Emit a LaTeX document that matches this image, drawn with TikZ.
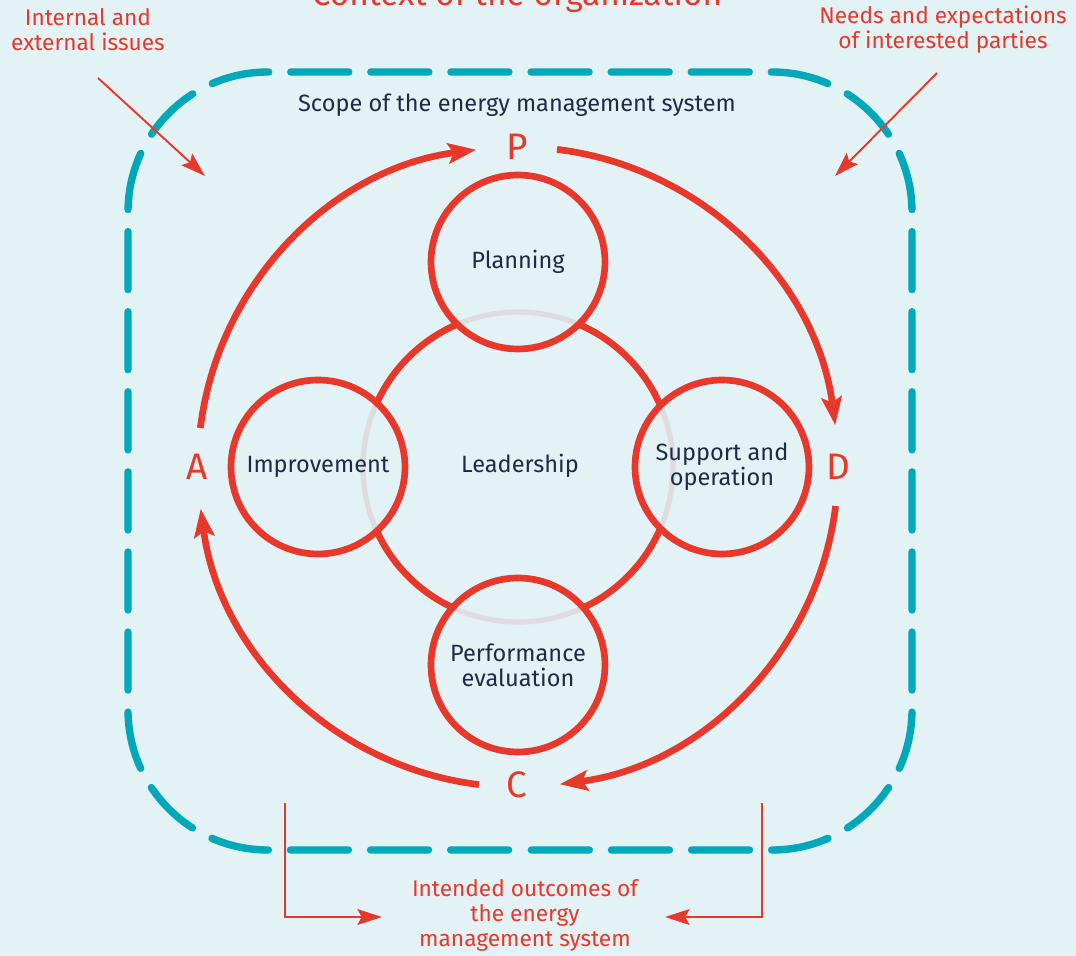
\documentclass[tikz,border=0pt]{standalone}
\usepackage{fontspec}
\setmainfont{Fira Sans}
\usetikzlibrary{calc}
\usetikzlibrary{arrows.meta}
\definecolor{pdcared}{HTML}{E8382B}
\definecolor{scopeteal}{HTML}{00A8BA}
\definecolor{bgblue}{HTML}{E2F2F5}
\definecolor{ringgrey}{HTML}{DEDCDE}
\definecolor{textnavy}{HTML}{1F2B45}

\begin{document}
\begin{tikzpicture}[x=0.02cm,y=0.02cm,
 every node/.style={inner sep=0pt},
 stage/.style={font=\fontsize{13.4}{14.2}\selectfont, text=textnavy, align=center},
 note/.style={font=\fontsize{12.9}{14.2}\selectfont, text=pdcared, align=center},
 phaseletter/.style={font=\fontsize{21}{21}\selectfont, text=pdcared},
 phase/.style={pdcared, line width=3.8pt, -{Stealth[length=16pt,width=11.5pt,inset=3pt]}},
 feed/.style={pdcared, line width=1.1pt, -{Stealth[length=14pt,width=9pt,inset=2.5pt]}},
 scopeline/.style={scopeteal, line width=4.2pt, line cap=round, rounded corners=2.8cm,
   dash pattern=on 1.16cm off 0.442cm, dash phase=1.38cm}]
\useasboundingbox (-518,-489) rectangle (558,467);
\fill[bgblue] (-518,-489) rectangle (558,467);
\coordinate (c) at (0,0);

\node[font=\fontsize{19}{19}\selectfont, text=pdcared, anchor=base] (title) at (-1,461) {Context of the organization};
\node[note] (issues) at (-430,437) {Internal and\\external issues};
\node[note] (needs) at (425,437) {Needs and expectations\\of interested parties};
\node[stage] (scopetext) at (-1,362) {Scope of the energy management system};
\node[note] (outcomes) at (7,-448) {Intended outcomes of\\the energy\\management system};

\draw[scopeline] (2,395) -- (394,395) -- (394,-383) -- (2,-383);
\draw[scopeline] (2,395) -- (-390,395) -- (-390,-383) -- (2,-383);

\draw[pdcared, line width=3.8pt] (c) circle (155);
\foreach \nm/\x/\y/\txt in {plan/0/205/Planning, impr/-200/0/Improvement,
  supp/204/0/{Support and\\operation}, perf/0/-198/{Performance\\evaluation}} {
 \fill[bgblue] (\x,\y) circle (87);
 \begin{scope}
  \clip (\x,\y) circle (87);
  \draw[ringgrey, line width=3pt] (c) circle (155);
 \end{scope}
 \node[stage, circle, draw=pdcared, line width=3.8pt, minimum size=3.48cm] (\nm) at (\x,\y) {\txt};
}
\node[stage] (lead) at (2,1) {Leadership};

\node[phaseletter] (P) at (-1,320) {P};
\node[phaseletter] (D) at (320,0) {D};
\node[phaseletter] (C) at (-1,-318) {C};
\node[phaseletter] (A) at (-321,0) {A};
\foreach \a in {0,90,180,270}
 \draw[phase] ($(c)+(\a+83:320)$) arc[start angle=\a+83, end angle=\a+7.5, radius=320];

\coordinate (issuesFrom) at (-420,389);
\coordinate (issuesTo) at (-313,291);
\coordinate (needsFrom) at (419,394);
\coordinate (needsTo) at (317,291);
\draw[feed] (issuesFrom) -- (issuesTo);
\draw[feed] (needsFrom) -- (needsTo);
\coordinate (outLeft) at (-233,-336);
\coordinate (outRight) at (244,-336);
\coordinate (outWest) at (-136,-450);
\coordinate (outEast) at (147,-450);
\draw[feed] (outLeft) |- (outWest);
\draw[feed] (outRight) |- (outEast);
\end{tikzpicture}
\end{document}
